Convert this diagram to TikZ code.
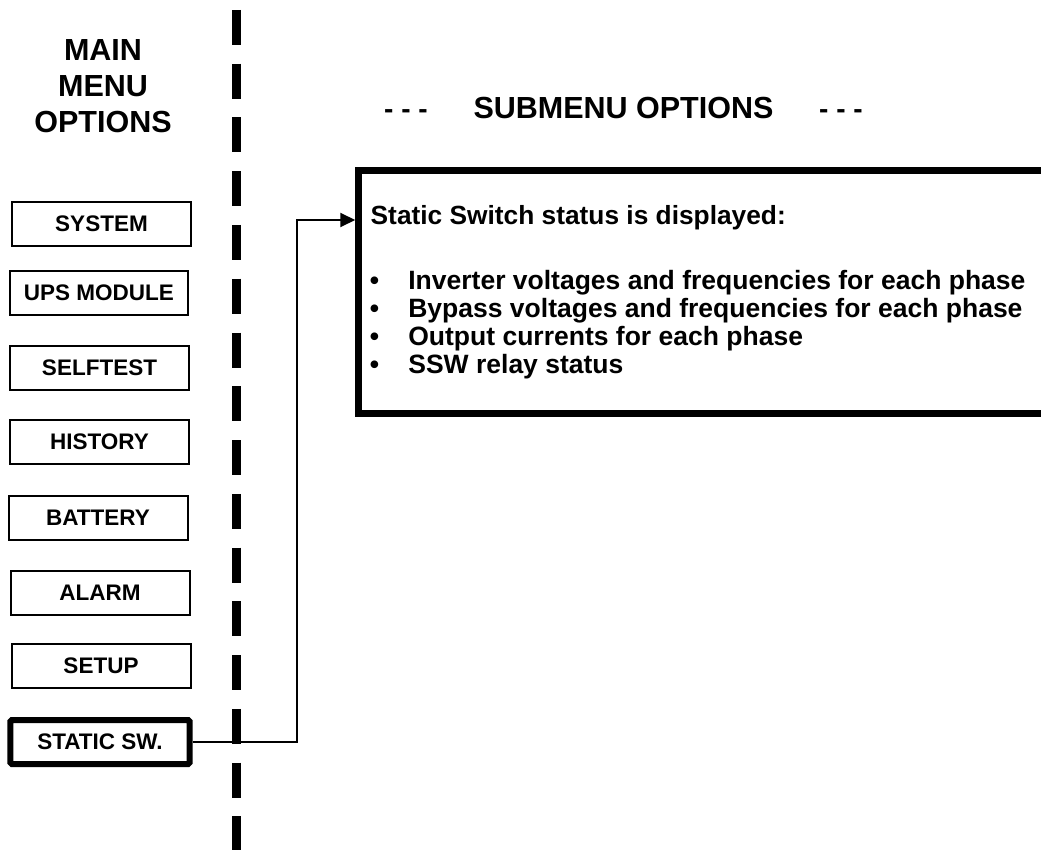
\documentclass[tikz,border=0pt]{standalone}
\usepackage{fontspec}
\setmainfont{Liberation Sans}
\usetikzlibrary{arrows.meta}
\begin{document}
\begin{tikzpicture}[x=1pt,y=-1pt,
  menubox/.style={draw, line width=2pt, minimum width=179pt, minimum height=44pt,
    inner sep=0pt, font=\fontsize{22.5}{26}\selectfont\bfseries},
  activebox/.style={menubox, line width=6pt, rounded corners=1.5pt, minimum width=179.4pt},
  bigbox/.style={draw, line width=6.5pt, minimum width=741.5pt, minimum height=243pt, inner sep=0pt},
  divider/.style={line width=9pt, dash pattern=on 35pt off 18.75pt},
  link/.style={line width=2pt, -{Triangle[length=15pt,width=14pt]}},
  headfont/.style={font=\fontsize{30.5}{36}\selectfont\bfseries},
  subfont/.style={font=\fontsize{30.5}{34}\selectfont\bfseries},
  dashfont/.style={font=\fontsize{28}{32}\selectfont\bfseries},
  leadfont/.style={font=\fontsize{26.3}{27.8}\selectfont\bfseries},
  bodyfont/.style={font=\fontsize{26.5}{27.8}\selectfont\bfseries},
  txt/.style={inner sep=0pt, anchor=base}
]
\useasboundingbox (0,0) rectangle (1041,850);
\clip (0,0) rectangle (1041,850);

% divider
\coordinate (dtop) at (236.5,10);
\coordinate (dbot) at (236.5,860);
\draw[divider] (dtop) -- (dbot);

% titles
\node[headfont, align=center, inner sep=0pt] (title) at (103,86.5) {MAIN\\MENU\\OPTIONS};
\node[txt, dashfont] (dashL) at (406,119) {- - -};
\node[txt, subfont] (sub) at (623.5,119) {SUBMENU OPTIONS};
\node[txt, dashfont] (dashR) at (841,119) {- - -};

% menu boxes
\node[menubox] (system) at (101.5,224) {SYSTEM};
\node[menubox, minimum width=178pt] (ups) at (99,293) {UPS MODULE};
\node[menubox] (selftest) at (99.5,368) {SELFTEST};
\node[menubox] (history) at (99.5,442) {HISTORY};
\node[menubox] (battery) at (98,518) {BATTERY};
\node[menubox] (alarm) at (100,593) {ALARM};
\node[menubox] (setup) at (101,666) {SETUP};
\node[activebox] (ssw) at (100,742) {STATIC SW.};

% submenu box
\node[bigbox] (box) at (729.25,292) {};
\node[txt, anchor=base west, leadfont] (head) at (370.5,225) {Static Switch status is displayed:};
\node[txt, anchor=base west, bodyfont] (list) at (369.7,290) {%
  \begin{tabular}[t]{@{}l@{\hspace{29.2pt}}l@{}}
  \textbullet & Inverter voltages and frequencies for each phase\\
  \textbullet & Bypass voltages and frequencies for each phase\\
  \textbullet & Output currents for each phase\\
  \textbullet & SSW relay status
  \end{tabular}};

% connector
\coordinate (ay) at (0,220);
\draw[link] (ssw.east) -- ++(104,0) |- (box.west |- ay);
\end{tikzpicture}
\end{document}
